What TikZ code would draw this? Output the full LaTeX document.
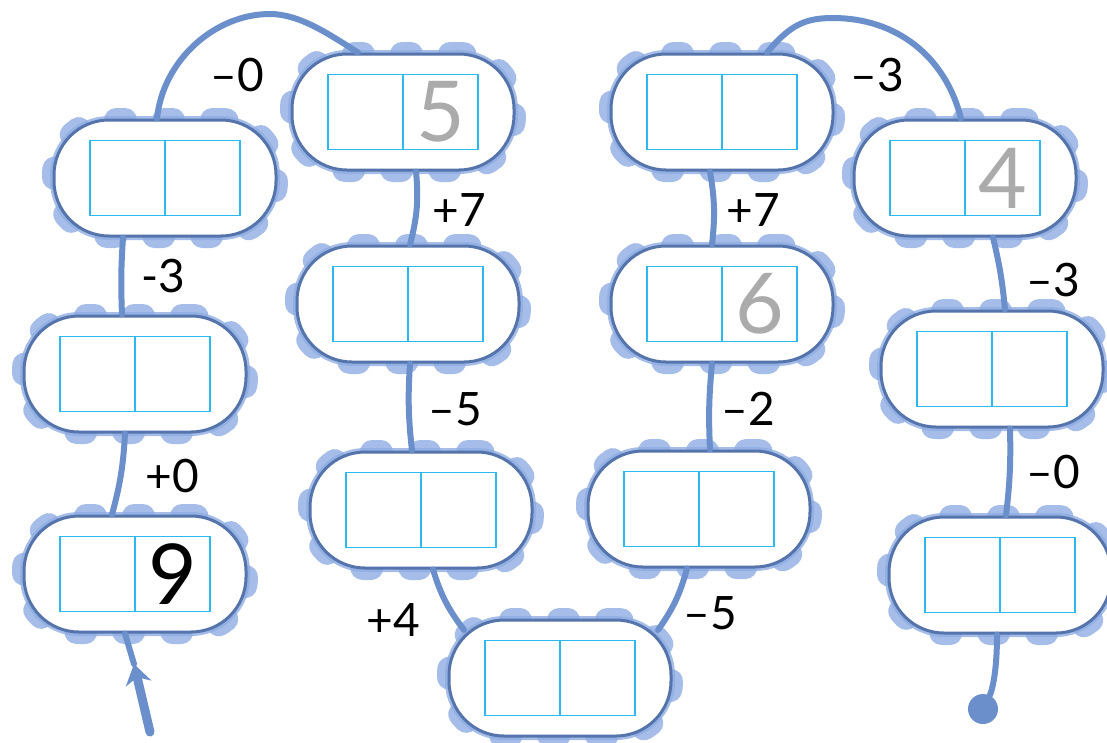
\documentclass[tikz,border=0pt]{standalone}
\usepackage{fontspec}
\setmainfont{Lato}
\usepackage{tikz}
\usetikzlibrary{arrows.meta}
\definecolor{trackblue}{HTML}{6A8FCB}
\definecolor{rimblue}{HTML}{5574AC}
\definecolor{bumpblue}{HTML}{8EADE2}
\definecolor{cellcyan}{HTML}{2BB9EF}
\definecolor{hintgray}{HTML}{ABABAB}

\begin{document}
\begin{tikzpicture}[x=1pt, y=-1pt,
    pod/.style={fill=white, draw=rimblue, line width=3pt, rounded corners=55pt,
      minimum width=222pt, minimum height=116pt, inner sep=0pt,
      preaction={draw=bumpblue, draw opacity=0.8, line width=8pt},
      preaction={draw=bumpblue, draw opacity=0.8, line width=24pt, line cap=round, dash pattern=on 9pt off 39pt}},
    cell/.style={draw=cellcyan, line width=1.8pt, minimum width=75pt, minimum height=75pt,
      inner sep=0pt, outer sep=0pt, font=\fontsize{84}{90}\selectfont},
    track/.style={draw=trackblue, line width=6pt, line cap=round},
    hop/.style={inner sep=0pt, font=\fontsize{46}{50}\selectfont}]
    \useasboundingbox (0,0) rectangle (1107,742);
    \foreach \n/\x/\y/\d/\c in {p1/135/574/9/black, p2/135/374//black, p3/165/178//black,
        p4/403/112/5/hintgray, p5/408/304//black, p6/421/510//black, p7/560/678//black,
        p8/699/509//black, p9/722/304/6/hintgray, p10/722/112//black,
        p11/965/178/4/hintgray, p12/992/369//black, p13/1000/575//black} {
      \node [pod] (\n) at (\x,\y) {};
      \node [cell, anchor=east] (\n-l) at (\n.center) {};
      \node [cell, anchor=west, text=\c] (\n-r) at (\n.center) {\d};
    }
    \coordinate (tail) at (150,732);
    \coordinate (tip) at (134,664);
    \node [circle, fill=trackblue, minimum size=30pt, inner sep=0pt] (finish) at (983,709) {};
    \draw [track, line width=9pt, -{Stealth[length=20pt, width=26pt]}] (tail) -- (tip);
    \draw [track] (tip) -- ([xshift=-10pt]p1.south);
    \draw [track] ([xshift=-23pt]p1.north) to[bend right=6] ([xshift=-10pt]p2.south);
    \draw [track] ([xshift=-13pt]p2.north) to[bend left=3] ([xshift=-42pt]p3.south);
    \draw [track] ([xshift=-8pt]p3.north) .. controls (163,60) and (215,14) .. (270,14)
      .. controls (300,14) and (330,35) .. ([xshift=-45pt]p4.north);
    \draw [track] ([xshift=13pt]p4.south) to[bend left=10] ([xshift=2pt]p5.north);
    \draw [track] ([xshift=2pt]p5.south) to[bend right=5] ([xshift=-9pt]p6.north);
    \draw [track] ([xshift=12pt]p6.south) to[bend right=10] ([xshift=-96pt, yshift=48pt]p7.center);
    \draw [track] ([xshift=98pt, yshift=48pt]p7.center) to[bend right=10] ([xshift=-12pt]p8.south);
    \draw [track] ([xshift=11pt]p8.north) to[bend left=4] ([xshift=-10pt]p9.south);
    \draw [track] ([xshift=-10pt]p9.north) to[bend right=8] ([xshift=-12pt]p10.south);
    \draw [track] ([xshift=45pt]p10.north) .. controls (790,25) and (805,18) .. (833,18)
      .. controls (895,18) and (945,55) .. ([xshift=-4pt]p11.north);
    \draw [track] ([xshift=28pt]p11.south) to[bend left=4] ([xshift=13pt]p12.north);
    \draw [track] ([xshift=18pt]p12.south) to[bend left=4] ([xshift=6pt]p13.north);
    \draw [track] ([xshift=-3pt]p13.south) .. controls (997,680) and (990,695) .. (finish);
    \node [hop] (h1) at (237,75) {–0};
    \node [hop] (h2) at (172,476) {+0};
    \node [hop] (h3) at (163,276) {-3};
    \node [hop] (h4) at (459,210) {+7};
    \node [hop] (h5) at (455,409) {–5};
    \node [hop] (h6) at (393,620) {+4};
    \node [hop] (h7) at (710,613) {–5};
    \node [hop] (h8) at (748,409) {–2};
    \node [hop] (h9) at (753,210) {+7};
    \node [hop] (h10) at (877,75) {–3};
    \node [hop] (h11) at (1053,280) {–3};
    \node [hop] (h12) at (1053,472) {–0};
  \end{tikzpicture}
\end{document}
